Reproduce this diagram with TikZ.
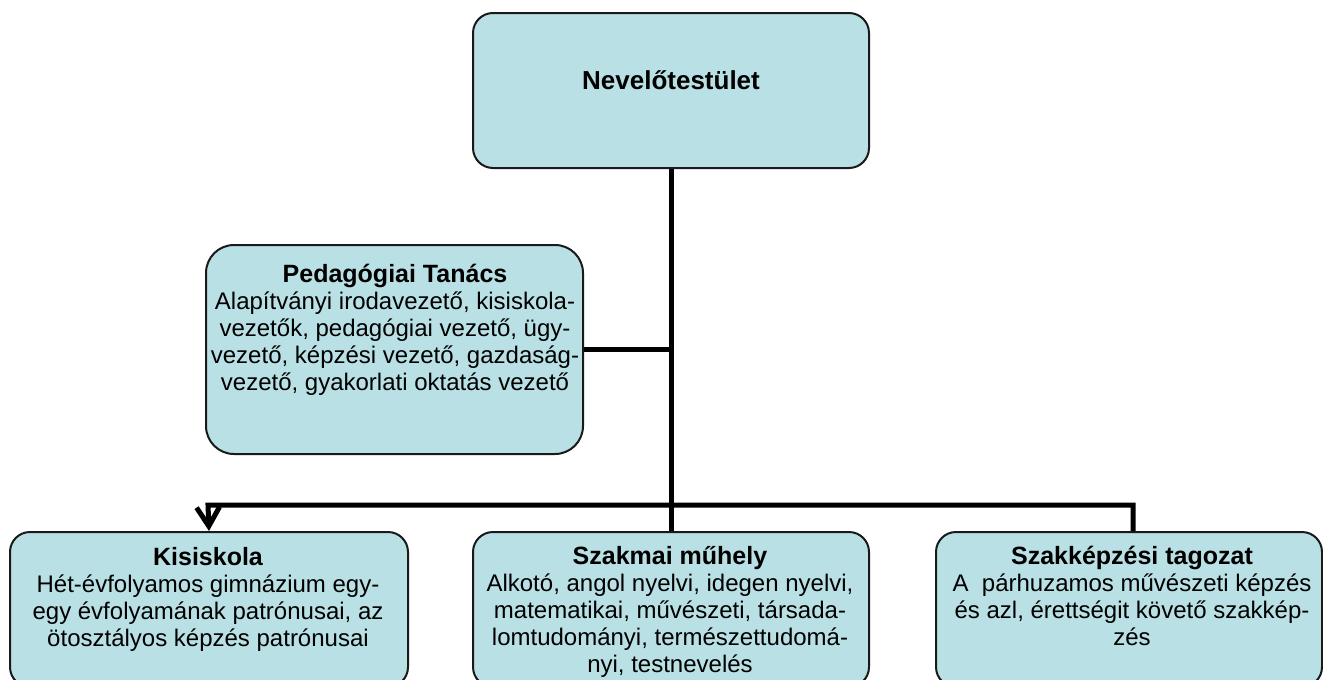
\documentclass[tikz,border=0pt]{standalone}
\usepackage{fontspec}
\setmainfont{Liberation Sans}
\usetikzlibrary{arrows.meta,backgrounds}
\definecolor{boxfill}{HTML}{B9E0E4}
\definecolor{boxline}{HTML}{1A1A1A}
\begin{document}
\begin{tikzpicture}[x=1pt,y=-1pt,
  box/.style={draw=boxline, line width=2pt, fill=boxfill, rounded corners=#1, inner sep=0pt},
  box/.default=20pt,
  txt/.style={align=center, inner sep=0pt, anchor=north, font=\fontsize{24}{27}\selectfont},
  conn/.style={line width=5pt, draw=black}]
\useasboundingbox (0,0) rectangle (1323,680);
\clip (0,0) rectangle (1323,680);
% boxes
\node[box, minimum width=396pt, minimum height=155pt, anchor=north west] (top) at (472,12) {};
\node[box=28pt, minimum width=377pt, minimum height=209pt, anchor=north west] (ped) at (205,244) {};
\node[box, minimum width=398pt, minimum height=155pt, anchor=north west] (kis) at (9,531) {};
\node[box, minimum width=396pt, minimum height=155pt, anchor=north west] (mid) at (472,531) {};
\node[box, minimum width=386pt, minimum height=155pt, anchor=north west] (szk) at (935,531) {};
% texts
\node[txt] (toptxt) at (671,70) {{\fontsize{26}{27}\selectfont\bfseries Nevelőtestület}};
\node[txt] (pedtxt) at (395,264) {{\fontsize{25}{27}\selectfont\bfseries Pedagógiai Tanács}\\
Alapítványi irodavezető, kisiskola-\\
vezetők, pedagógiai vezető, ügy-\\
vezető, képzési vezető, gazdaság-\\
vezető, gyakorlati oktatás vezető};
\node[txt] (kistxt) at (208,547) {{\fontsize{25}{27}\selectfont\bfseries Kisiskola}\\
Hét-évfolyamos gimnázium egy-\\
egy évfolyamának patrónusai, az\\
ötosztályos képzés patrónusai};
\node[txt] (midtxt) at (670,546) {{\fontsize{25}{27}\selectfont\bfseries Szakmai műhely}\\
Alkotó, angol nyelvi, idegen nyelvi,\\
matematikai, művészeti, társada-\\
lomtudományi, természettudomá-\\
nyi, testnevelés};
\node[txt] (szktxt) at (1132,546) {{\fontsize{25}{27}\selectfont\bfseries Szakképzési tagozat}\\
A\ \ párhuzamos művészeti képzés\\
és azl, érettségit követő szakkép-\\
zés};
% connectors
\coordinate (busL) at (208,505);
\coordinate (busR) at (1133,505);
\coordinate (szkin) at (1133,531);
\begin{scope}[on background layer]
\draw[conn] (top.south) -- (mid.north);
\draw[conn] (ped.east) -- (ped.east -| top.south);
\draw[conn, -{Straight Barb[length=19pt,width=23pt]}] (szkin) -- (busR) -- (busL) -- (kis.north);
\end{scope}
\end{tikzpicture}
\end{document}
